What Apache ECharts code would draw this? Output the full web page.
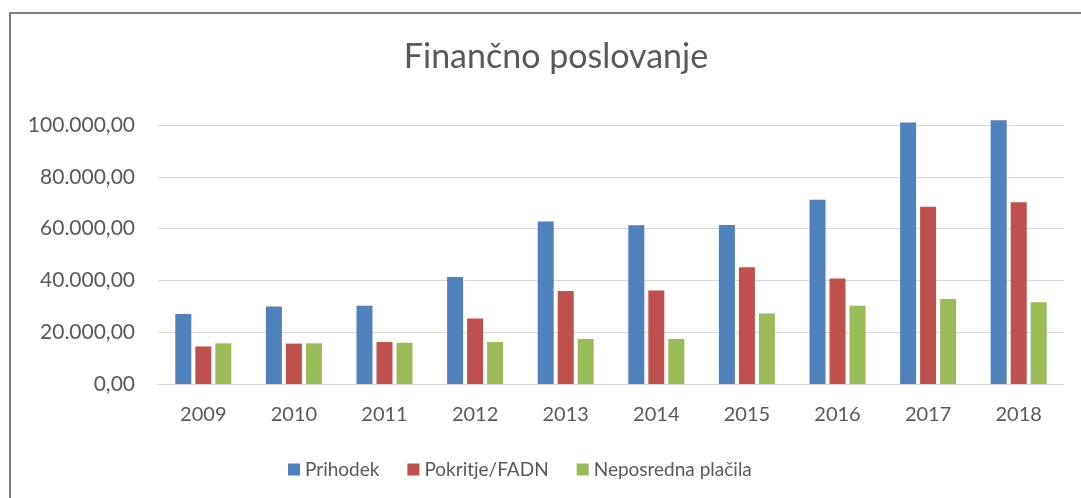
<!DOCTYPE html>
<html>
<head>
<meta charset="utf-8">
<script src="https://cdn.jsdelivr.net/npm/echarts@6/dist/echarts.min.js"></script>
<style>
  html, body { margin: 0; padding: 0; background: #fff; }
  #chart { width: 1081px; height: 498px; }
</style>
</head>
<body>
<div id="chart"></div>
<script>
  // podatki
  var years = ['2009', '2010', '2011', '2012', '2013', '2014', '2015', '2016', '2017', '2018'];
  var prihodek = [27000, 29900, 30200, 41300, 62700, 61300, 61400, 71100, 101000, 101800];
  var pokritje = [14500, 15600, 16200, 25300, 35900, 36100, 45100, 40700, 68400, 70200];
  var placila = [15700, 15700, 15900, 16200, 17400, 17400, 27200, 30200, 32800, 31600];
  var seriesNames = ['Prihodek', 'Pokritje/FADN', 'Neposredna plačila'];
  var colors = ['#4F81BD', '#C0504D', '#9BBB59'];

  var font = 'Lato, "Open Sans", sans-serif';
  var textColor = '#595959';

  // 100000 -> 100.000,00
  function fmt(v) {
    var s = Math.round(v).toString().replace(/\B(?=(\d{3})+(?!\d))/g, '.');
    return s + ',00';
  }

  var chart = echarts.init(document.getElementById('chart'));

  function bar(name, data, color) {
    return {
      name: name,
      type: 'bar',
      data: data,
      barWidth: 16,
      barGap: '25%',
      clip: false,
      itemStyle: { color: color },
      emphasis: { disabled: true }
    };
  }

  var option = {
    animation: false,
    color: colors,
    textStyle: { fontFamily: font },
    title: {
      text: 'Finančno poslovanje',
      left: 551,
      textAlign: 'center',
      top: 35,
      textStyle: { fontFamily: font, fontSize: 34, fontWeight: 'normal', color: textColor }
    },
    graphic: [{
      type: 'rect',
      shape: { x: 10, y: 13, width: 1200, height: 700 },
      style: { fill: 'none', stroke: '#808080', lineWidth: 2 },
      silent: true
    }],
    legend: {
      left: 283,
      top: 455,
      itemWidth: 12,
      itemHeight: 12,
      itemGap: 28,
      icon: 'rect',
      textStyle: { fontFamily: font, fontSize: 19, color: textColor },
      data: seriesNames
    },
    grid: { left: 158, right: 17, top: 125, bottom: 114 },
    xAxis: {
      type: 'category',
      data: years,
      axisTick: { show: false },
      axisLine: { lineStyle: { color: '#d9d9d9', width: 1 } },
      axisLabel: { color: textColor, fontSize: 20, margin: 21, fontFamily: font }
    },
    yAxis: {
      type: 'value',
      min: 0,
      max: 100000,
      interval: 20000,
      axisLine: { show: false },
      axisTick: { show: false },
      splitLine: { lineStyle: { color: '#d9d9d9', width: 1 } },
      axisLabel: { color: textColor, fontSize: 21, margin: 23, fontFamily: font, formatter: fmt }
    },
    series: [
      bar(seriesNames[0], prihodek, colors[0]),
      bar(seriesNames[1], pokritje, colors[1]),
      bar(seriesNames[2], placila, colors[2])
    ]
  };

  chart.setOption(option);
</script>
</body>
</html>
